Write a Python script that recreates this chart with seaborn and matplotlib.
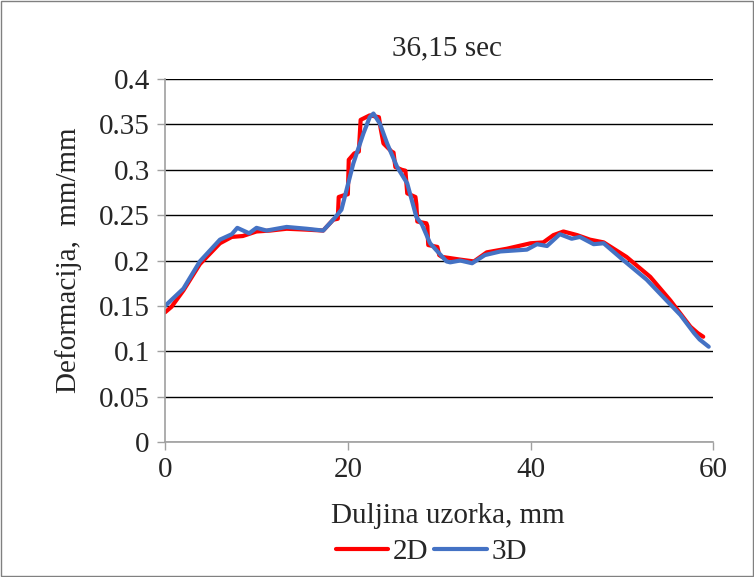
import numpy as np
import pandas as pd
import seaborn as sns
import matplotlib.pyplot as plt
from matplotlib.lines import Line2D

# values
x_2d = [0, 0.7, 2.0, 3.8, 6.0, 7.3, 8.5, 10.0, 11.5, 13.3, 15.5, 17.3, 18.4, 18.9, 19.0, 19.6, 20.0, 20.1,
        20.7, 21.2, 21.4, 22.4, 23.4, 23.6, 23.9, 24.8, 25.0, 25.2, 25.9, 26.3, 26.5, 27.4, 27.5, 27.6,
        28.6, 28.7, 28.8, 29.8, 30.0, 30.3, 32.3, 33.8, 35.2, 37.4, 40.0, 41.4, 42.5, 43.6, 45.1, 46.5,
        48.0, 50.5, 53.1, 55.3, 57.5, 58.3, 58.9]
y_2d = [0.143, 0.149, 0.167, 0.196, 0.219, 0.226, 0.227, 0.232, 0.233, 0.235, 0.234, 0.233, 0.245, 0.246, 0.270, 0.272, 0.273, 0.311,
        0.318, 0.320, 0.355, 0.360, 0.358, 0.345, 0.329, 0.320, 0.319, 0.303, 0.300, 0.299, 0.274, 0.270, 0.262, 0.243,
        0.241, 0.238, 0.217, 0.215, 0.206, 0.204, 0.201, 0.199, 0.209, 0.213, 0.219, 0.220, 0.228, 0.232, 0.228, 0.223,
        0.220, 0.204, 0.182, 0.156, 0.127, 0.120, 0.116]

x_3d = [0, 2.0, 3.8, 6.0, 7.3, 7.9, 9.2, 10.0, 11.1, 13.3, 15.5, 17.3, 18.4, 19.3, 20.6, 21.7, 22.4, 22.8,
        23.5, 24.3, 25.4, 26.5, 27.5, 28.1, 29.0, 30.8, 31.2, 32.3, 33.6, 35.0, 36.7, 39.6, 40.7, 41.8,
        43.2, 44.5, 45.4, 46.9, 48.0, 50.2, 52.7, 54.5, 56.4, 57.9, 58.5, 59.5]
y_3d = [0.150, 0.169, 0.199, 0.223, 0.229, 0.236, 0.230, 0.236, 0.233, 0.237, 0.235, 0.233, 0.245, 0.256, 0.307, 0.340, 0.358, 0.362,
        0.351, 0.329, 0.303, 0.285, 0.248, 0.240, 0.219, 0.199, 0.198, 0.200, 0.197, 0.206, 0.210, 0.212, 0.218, 0.216,
        0.229, 0.224, 0.226, 0.218, 0.219, 0.200, 0.179, 0.160, 0.140, 0.120, 0.113, 0.105]

df = pd.concat([
    pd.DataFrame({'x': x_2d, 'y': y_2d, 'serie': '2D'}),
    pd.DataFrame({'x': x_3d, 'y': y_3d, 'serie': '3D'}),
])

sns.set_style('white')
plt.rcParams['font.family'] = ['Liberation Serif', 'DejaVu Serif']
fs = 21

fig = plt.figure(figsize=(7.54, 5.77), dpi=100)
ax = fig.add_axes([0.219, 0.234, 0.727, 0.629])

sns.lineplot(data=df, x='x', y='y', hue='serie', palette={'2D': '#ff0000', '3D': '#4472c4'},
             linewidth=3, sort=False, estimator=None, ax=ax, legend=False)

ax.set_xlim(0, 60)
ax.set_ylim(0, 0.4)
ax.set_xticks([0, 20, 40, 60])
ax.set_yticks(np.arange(0, 0.401, 0.05))
ax.set_yticklabels(['0', '0.05', '0.1', '0.15', '0.2', '0.25', '0.3', '0.35', '0.4'])
ax.yaxis.grid(True, color='black', linewidth=1)
ax.xaxis.grid(False)
for s in ['top', 'right']:
    ax.spines[s].set_visible(False)
for s in ['left', 'bottom']:
    ax.spines[s].set_color('#a0a0a0')
    ax.spines[s].set_linewidth(1.2)
ax.tick_params(axis='both', labelsize=fs, length=6, width=1, color='#a0a0a0', direction='out',
               bottom=True, left=True, pad=5)

ax.set_title('36,15 sec', fontsize=fs, pad=17, x=0.515)
ax.set_xlabel('Duljina uzorka, mm', fontsize=fs, labelpad=14, x=0.515)
ax.set_ylabel('Deformacija,  mm/mm', fontsize=fs, labelpad=12)

handles = [Line2D([], [], color='#ff0000', lw=3), Line2D([], [], color='#4472c4', lw=3)]
fig.legend(handles, ['2D', '3D'], loc='center', bbox_to_anchor=(0.572, 0.043), ncol=2, frameon=False,
           fontsize=fs, handlelength=1.8, columnspacing=0.2, handletextpad=0.15,
           borderpad=0, borderaxespad=0)

fig.patches.append(plt.Rectangle((0.001, 0.001), 0.998, 0.998, transform=fig.transFigure,
                                 fill=False, edgecolor='#808080', linewidth=1))

fig.savefig('out.png', dpi=100)
